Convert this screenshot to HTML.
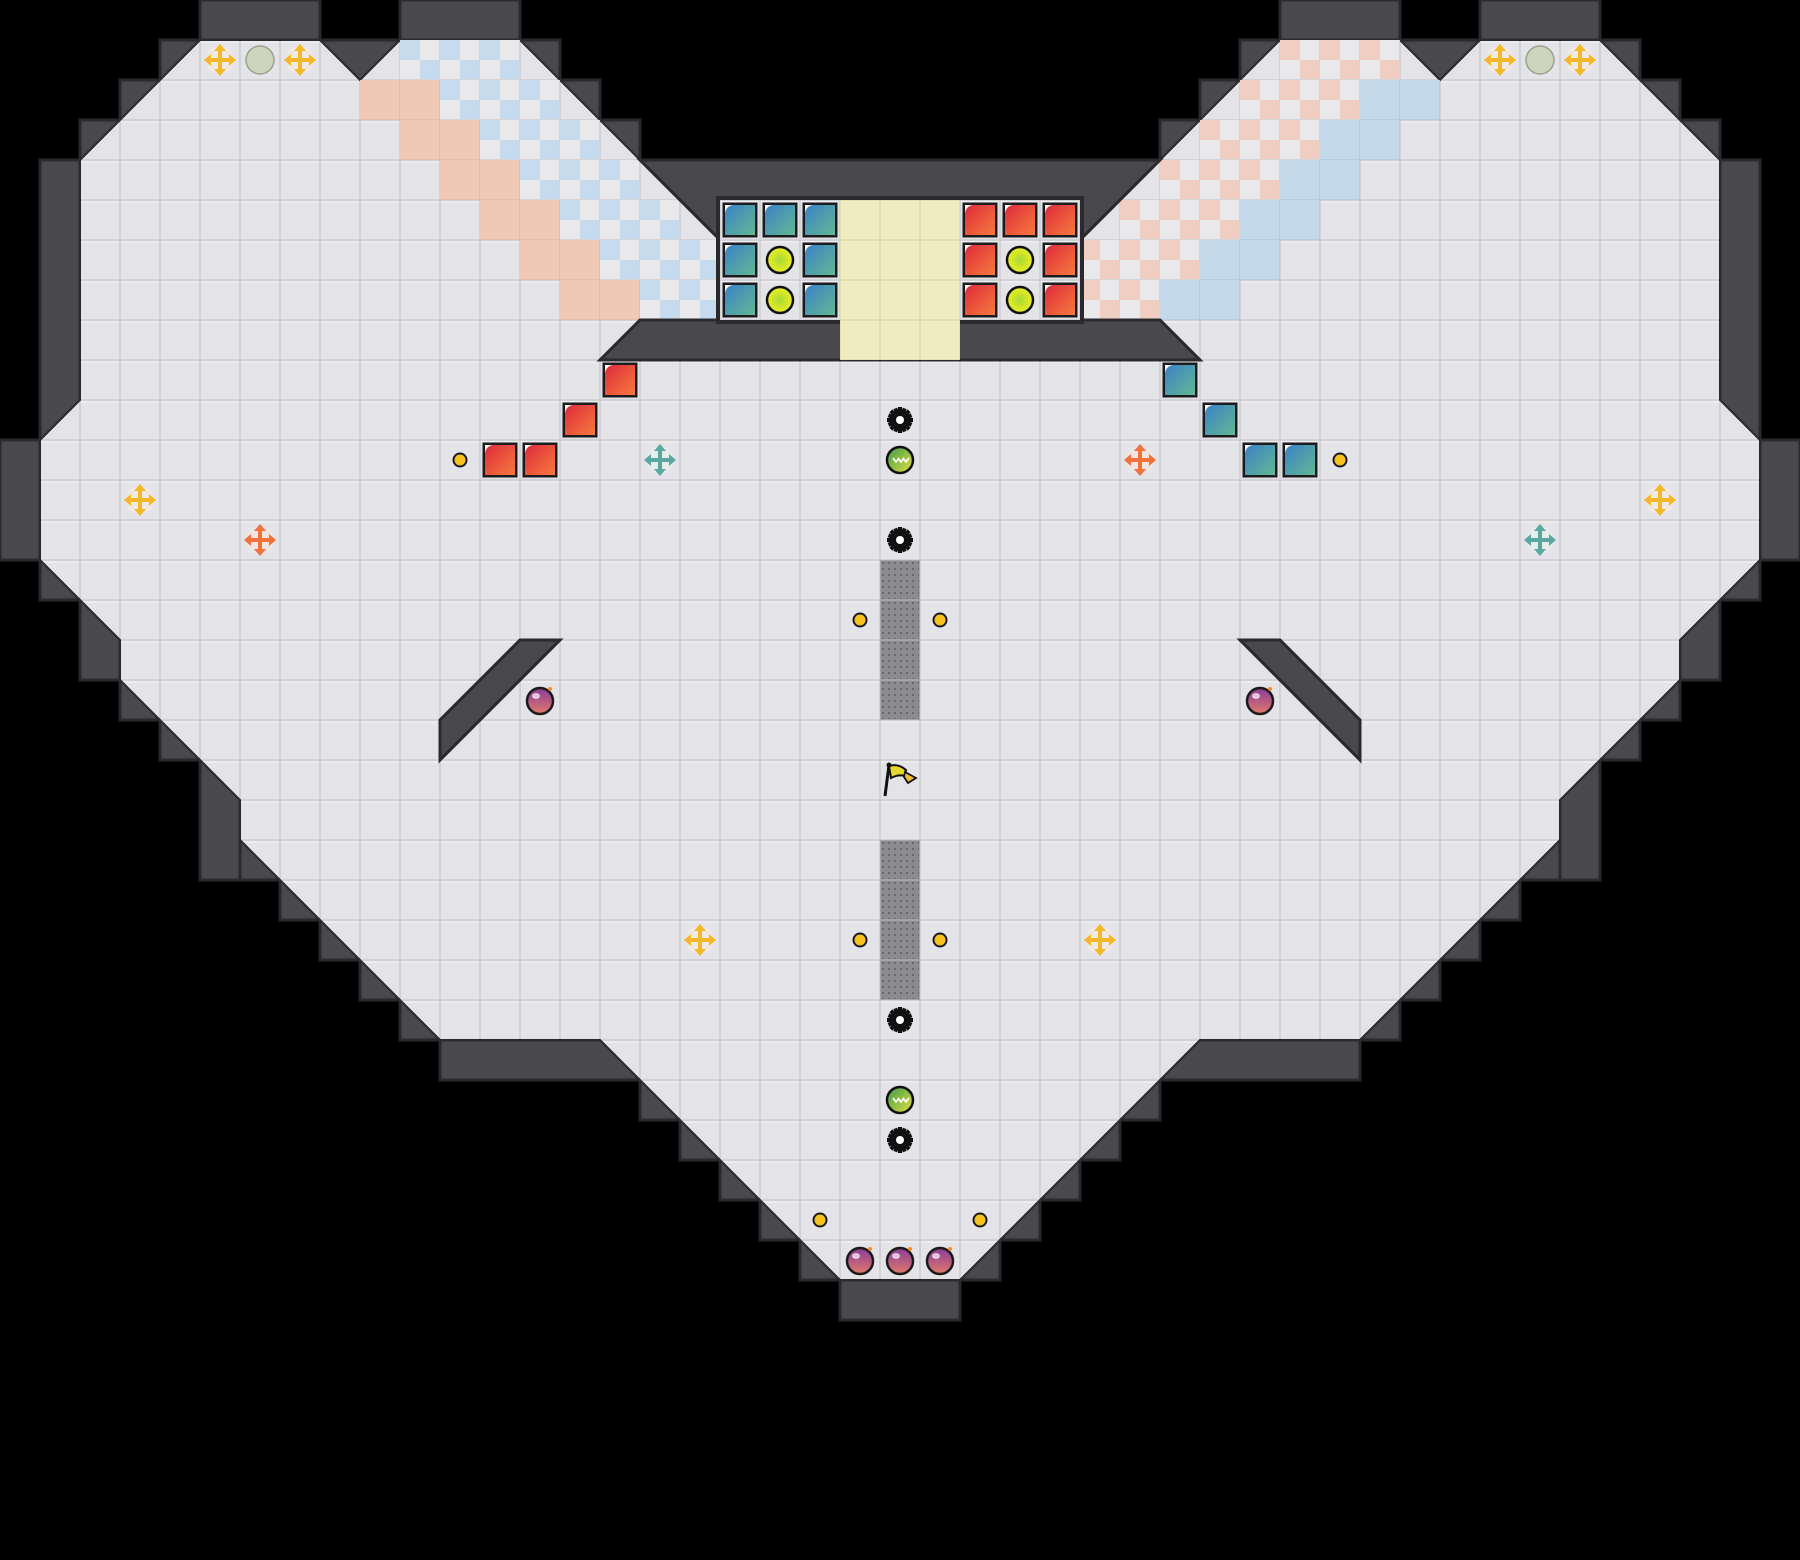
<!DOCTYPE html>
<html><head><meta charset="utf-8"><style>
html,body{margin:0;padding:0;background:#000;}
svg{display:block;}
</style></head><body>
<svg width="1800" height="1560" viewBox="0 0 1800 1560" xmlns="http://www.w3.org/2000/svg">
<defs>
<pattern id="floor" width="40" height="40" patternUnits="userSpaceOnUse">
<rect width="40" height="40" fill="#d2d2d6"/>
<rect x="1" y="1" width="38" height="38" fill="#e4e4e8"/>
<rect x="1" y="1" width="38" height="2" fill="#ececef"/>
</pattern>
<pattern id="chkB" width="40" height="40" patternUnits="userSpaceOnUse">
<rect width="40" height="40" fill="#e9e9ec"/>
<rect width="20" height="20" fill="#c6dcee"/>
<rect x="20" y="20" width="20" height="20" fill="#c6dcee"/>
<rect x="39" width="1" height="40" fill="#d6d6da"/><rect y="39" width="40" height="1" fill="#d6d6da"/>
</pattern>
<pattern id="chkS" width="40" height="40" patternUnits="userSpaceOnUse">
<rect width="40" height="40" fill="#e9e9ec"/>
<rect width="20" height="20" fill="#f0cfc2"/>
<rect x="20" y="20" width="20" height="20" fill="#f0cfc2"/>
<rect x="39" width="1" height="40" fill="#d6d6da"/><rect y="39" width="40" height="1" fill="#d6d6da"/>
</pattern>
<pattern id="solS" width="40" height="40" patternUnits="userSpaceOnUse">
<rect width="40" height="40" fill="#f0c8b6"/><rect x="39" width="1" height="40" fill="#e4bcaa"/><rect y="39" width="40" height="1" fill="#e4bcaa"/>
</pattern>
<pattern id="solB" width="40" height="40" patternUnits="userSpaceOnUse">
<rect width="40" height="40" fill="#c4d9ea"/><rect x="39" width="1" height="40" fill="#b6cde0"/><rect y="39" width="40" height="1" fill="#b6cde0"/>
</pattern>
<pattern id="yel" width="40" height="40" patternUnits="userSpaceOnUse">
<rect width="40" height="40" fill="#e2deaa"/><rect x="1" y="1" width="38" height="38" fill="#f0ecc2"/>
</pattern>
<pattern id="dots" width="6" height="6" patternUnits="userSpaceOnUse">
<rect width="6" height="6" fill="#8c8c8e"/><rect x="2" y="2" width="2" height="2" fill="#6a6a6c"/>
</pattern>
<linearGradient id="gb" x1="0" y1="0" x2="1" y2="1"><stop offset="0" stop-color="#3a82c6"/><stop offset="1" stop-color="#62b894"/></linearGradient>
<linearGradient id="gr" x1="0" y1="0" x2="1" y2="1"><stop offset="0" stop-color="#de2a3c"/><stop offset="1" stop-color="#f67a3c"/></linearGradient>
<radialGradient id="gy"><stop offset="0" stop-color="#a8d838"/><stop offset="1" stop-color="#eef020"/></radialGradient>
<linearGradient id="gg" x1="0" y1="0" x2="1" y2="1"><stop offset="0" stop-color="#3a9a48"/><stop offset="1" stop-color="#e8e040"/></linearGradient>
<linearGradient id="gbomb" x1="0" y1="0" x2="0" y2="1"><stop offset="0" stop-color="#8a3c9a"/><stop offset="1" stop-color="#e07a6a"/></linearGradient>

<g id="bbox"><rect x="2.5" y="2.5" width="35" height="35" fill="#1c1c1e"/><rect x="5" y="5" width="30" height="30" fill="url(#gb)"/><path d="M5 5h9A9 9 0 0 0 5 14z" fill="#fff"/></g>
<g id="rbox"><rect x="2.5" y="2.5" width="35" height="35" fill="#1c1c1e"/><rect x="5" y="5" width="30" height="30" fill="url(#gr)"/><path d="M5 5h9A9 9 0 0 0 5 14z" fill="#fff"/></g>
<g id="ycirc"><circle cx="20" cy="20" r="13" fill="url(#gy)" stroke="#111" stroke-width="2.5"/></g>
<g id="coin"><circle cx="20" cy="20" r="6.5" fill="#f6c21c" stroke="#1a1a1a" stroke-width="2"/></g>
<g id="gcirc"><circle cx="20" cy="20" r="14" fill="#cdd6bd" stroke="#9aa08e" stroke-width="1.5"/></g>
<g id="gear"><g fill="#111"><circle cx="20" cy="20" r="9.5"/>
<rect x="18" y="7" width="4" height="26"/><rect x="7" y="18" width="26" height="4"/>
<rect x="18" y="7" width="4" height="26" transform="rotate(45 20 20)"/><rect x="18" y="7" width="4" height="26" transform="rotate(-45 20 20)"/>
<rect x="18" y="7.5" width="4" height="25" transform="rotate(22.5 20 20)"/><rect x="18" y="7.5" width="4" height="25" transform="rotate(-22.5 20 20)"/>
<rect x="18" y="7.5" width="4" height="25" transform="rotate(67.5 20 20)"/><rect x="18" y="7.5" width="4" height="25" transform="rotate(-67.5 20 20)"/></g>
<circle cx="20" cy="20" r="4" fill="#fff"/></g>
<g id="gball"><circle cx="20" cy="20" r="13" fill="url(#gg)" stroke="#111" stroke-width="2.5"/>
<path d="M13 18l3 4 3-4M18 18l3 4 3-4M23 18l3 4 3-4" fill="none" stroke="#fff" stroke-width="1.6"/></g>
<g id="bomb"><circle cx="20" cy="21" r="13" fill="url(#gbomb)" stroke="#1a1a1a" stroke-width="2.5"/>
<ellipse cx="16" cy="16" rx="4" ry="3" fill="#fff" opacity="0.7"/><circle cx="30" cy="9" r="2" fill="#f08a2a"/></g>
<g id="gblock"><rect x="0" y="0" width="40" height="40" fill="#a6a6a8"/><rect x="1" y="1" width="38" height="38" fill="url(#dots)"/></g>
<g id="arrowY"><circle cx="20" cy="20" r="14" fill="#efeae4"/><g fill="#f4b828"><rect x="8" y="18" width="24" height="4"/><rect x="18" y="8" width="4" height="24"/>
<path d="M4 20l7-6v12zM36 20l-7-6v12zM20 4l-6 7h12zM20 36l-6-7h12z"/></g></g>
<g id="arrowO"><circle cx="20" cy="20" r="14" fill="#efe6e2"/><g fill="#f2703c"><rect x="8" y="18" width="24" height="4"/><rect x="18" y="8" width="4" height="24"/>
<path d="M4 20l7-6v12zM36 20l-7-6v12zM20 4l-6 7h12zM20 36l-6-7h12z"/></g></g>
<g id="arrowT"><circle cx="20" cy="20" r="14" fill="#e6ecea"/><g fill="#5aa8a0"><rect x="8" y="18" width="24" height="4"/><rect x="18" y="8" width="4" height="24"/>
<path d="M4 20l7-6v12zM36 20l-7-6v12zM20 4l-6 7h12zM20 36l-6-7h12z"/></g></g>
<g id="flag"><path d="M9 6 Q18 3 26 10 L25 16 Q18 14 11 18z" fill="#e8d82a" stroke="#111" stroke-width="2"/><path d="M25 12 L36 18 L28 23 L24 17z" fill="#f0c030" stroke="#111" stroke-width="1.8"/>
<line x1="9" y1="5" x2="5" y2="36" stroke="#111" stroke-width="3"/><circle cx="9" cy="5" r="2.5" fill="#111"/></g>
</defs>

<rect width="1800" height="1560" fill="#000"/>

<g fill="#48484d" stroke="#2a2a2e" stroke-width="3">
<rect x="200" y="0" width="120" height="40"/><rect x="400" y="0" width="120" height="40"/>
<rect x="160" y="40" width="40" height="40"/><rect x="320" y="40" width="80" height="40"/><rect x="520" y="40" width="40" height="40"/>
<rect x="120" y="80" width="40" height="40"/><rect x="560" y="80" width="40" height="40"/>
<rect x="80" y="120" width="40" height="40"/><rect x="600" y="120" width="40" height="40"/>
<rect x="40" y="160" width="40" height="280"/><rect x="0" y="440" width="40" height="120"/>
<rect x="40" y="560" width="40" height="40"/><rect x="80" y="600" width="40" height="80"/>
<rect x="120" y="680" width="40" height="40"/><rect x="160" y="720" width="40" height="40"/>
<rect x="200" y="760" width="40" height="120"/><rect x="240" y="840" width="40" height="40"/>
<rect x="280" y="880" width="40" height="40"/><rect x="320" y="920" width="40" height="40"/>
<rect x="360" y="960" width="40" height="40"/><rect x="400" y="1000" width="40" height="40"/>
<rect x="440" y="1040" width="200" height="40"/><rect x="640" y="1080" width="40" height="40"/>
<rect x="680" y="1120" width="40" height="40"/><rect x="720" y="1160" width="40" height="40"/>
<rect x="760" y="1200" width="40" height="40"/><rect x="800" y="1240" width="40" height="40"/>
<rect x="840" y="1280" width="120" height="40"/>
<rect x="1480" y="0" width="120" height="40"/><rect x="1280" y="0" width="120" height="40"/>
<rect x="1600" y="40" width="40" height="40"/><rect x="1400" y="40" width="80" height="40"/><rect x="1240" y="40" width="40" height="40"/>
<rect x="1640" y="80" width="40" height="40"/><rect x="1200" y="80" width="40" height="40"/>
<rect x="1680" y="120" width="40" height="40"/><rect x="1160" y="120" width="40" height="40"/>
<rect x="1720" y="160" width="40" height="280"/><rect x="1760" y="440" width="40" height="120"/>
<rect x="1720" y="560" width="40" height="40"/><rect x="1680" y="600" width="40" height="80"/>
<rect x="1640" y="680" width="40" height="40"/><rect x="1600" y="720" width="40" height="40"/>
<rect x="1560" y="760" width="40" height="120"/><rect x="1520" y="840" width="40" height="40"/>
<rect x="1480" y="880" width="40" height="40"/><rect x="1440" y="920" width="40" height="40"/>
<rect x="1400" y="960" width="40" height="40"/><rect x="1360" y="1000" width="40" height="40"/>
<rect x="1160" y="1040" width="200" height="40"/><rect x="1120" y="1080" width="40" height="40"/>
<rect x="1080" y="1120" width="40" height="40"/><rect x="1040" y="1160" width="40" height="40"/>
<rect x="1000" y="1200" width="40" height="40"/><rect x="960" y="1240" width="40" height="40"/>
</g>

<polygon fill="url(#floor)" stroke="#2a2a2e" stroke-width="2" points="200,40 320,40 360,80 400,40 520,40 640,160 1160,160 1280,40 1400,40 1440,80 1480,40 1600,40 1720,160 1720,400 1760,440 1760,560 1680,640 1680,680 1560,800 1560,840 1360,1040 1200,1040 960,1280 840,1280 600,1040 440,1040 240,840 240,800 120,680 120,640 40,560 40,440 80,400 80,160"/>

<g>
<rect x="400" y="40" width="120" height="40" fill="url(#chkB)"/>
<rect x="440" y="80" width="120" height="40" fill="url(#chkB)"/>
<rect x="480" y="120" width="120" height="40" fill="url(#chkB)"/>
<rect x="520" y="160" width="120" height="40" fill="url(#chkB)"/>
<rect x="560" y="200" width="120" height="40" fill="url(#chkB)"/>
<rect x="600" y="240" width="120" height="40" fill="url(#chkB)"/>
<rect x="640" y="280" width="80" height="40" fill="url(#chkB)"/>
<rect x="360" y="80" width="80" height="40" fill="url(#solS)"/>
<rect x="400" y="120" width="80" height="40" fill="url(#solS)"/>
<rect x="440" y="160" width="80" height="40" fill="url(#solS)"/>
<rect x="480" y="200" width="80" height="40" fill="url(#solS)"/>
<rect x="520" y="240" width="80" height="40" fill="url(#solS)"/>
<rect x="560" y="280" width="80" height="40" fill="url(#solS)"/>
<rect x="1280" y="40" width="120" height="40" fill="url(#chkS)"/>
<rect x="1240" y="80" width="120" height="40" fill="url(#chkS)"/>
<rect x="1200" y="120" width="120" height="40" fill="url(#chkS)"/>
<rect x="1160" y="160" width="120" height="40" fill="url(#chkS)"/>
<rect x="1120" y="200" width="120" height="40" fill="url(#chkS)"/>
<rect x="1080" y="240" width="120" height="40" fill="url(#chkS)"/>
<rect x="1080" y="280" width="80" height="40" fill="url(#chkS)"/>
<rect x="1360" y="80" width="80" height="40" fill="url(#solB)"/>
<rect x="1320" y="120" width="80" height="40" fill="url(#solB)"/>
<rect x="1280" y="160" width="80" height="40" fill="url(#solB)"/>
<rect x="1240" y="200" width="80" height="40" fill="url(#solB)"/>
<rect x="1200" y="240" width="80" height="40" fill="url(#solB)"/>
<rect x="1160" y="280" width="80" height="40" fill="url(#solB)"/>
</g>

<polygon fill="#48484d" stroke="#2a2a2e" stroke-width="3" points="640,160 1160,160 1080,240 1080,320 1160,320 1200,360 600,360 640,320 720,320 720,240"/>
<rect x="716" y="196" width="368" height="128" fill="#2a2a2e"/>
<rect x="720" y="200" width="360" height="120" fill="url(#floor)"/>
<rect x="840" y="200" width="120" height="160" fill="url(#yel)"/>

<polygon fill="#48484d" stroke="#2a2a2e" stroke-width="3" points="520,640 560,640 440,760 440,720"/>
<polygon fill="#48484d" stroke="#2a2a2e" stroke-width="3" points="1280,640 1240,640 1360,760 1360,720"/>

<use href="#bbox" x="720" y="200"/><use href="#bbox" x="760" y="200"/><use href="#bbox" x="800" y="200"/>
<use href="#bbox" x="720" y="240"/><use href="#bbox" x="800" y="240"/>
<use href="#bbox" x="720" y="280"/><use href="#bbox" x="800" y="280"/>
<use href="#bbox" x="1160" y="360"/><use href="#bbox" x="1200" y="400"/><use href="#bbox" x="1240" y="440"/><use href="#bbox" x="1280" y="440"/>
<use href="#rbox" x="960" y="200"/><use href="#rbox" x="1000" y="200"/><use href="#rbox" x="1040" y="200"/>
<use href="#rbox" x="960" y="240"/><use href="#rbox" x="1040" y="240"/>
<use href="#rbox" x="960" y="280"/><use href="#rbox" x="1040" y="280"/>
<use href="#rbox" x="600" y="360"/><use href="#rbox" x="560" y="400"/><use href="#rbox" x="480" y="440"/><use href="#rbox" x="520" y="440"/>
<use href="#ycirc" x="760" y="240"/><use href="#ycirc" x="760" y="280"/><use href="#ycirc" x="1000" y="240"/><use href="#ycirc" x="1000" y="280"/>

<use href="#coin" x="440" y="440"/><use href="#coin" x="1320" y="440"/>
<use href="#coin" x="840" y="600"/><use href="#coin" x="920" y="600"/>
<use href="#coin" x="840" y="920"/><use href="#coin" x="920" y="920"/>
<use href="#coin" x="800" y="1200"/><use href="#coin" x="960" y="1200"/>

<use href="#arrowY" x="200" y="40"/><use href="#arrowY" x="280" y="40"/>
<use href="#arrowY" x="1480" y="40"/><use href="#arrowY" x="1560" y="40"/>
<use href="#arrowY" x="120" y="480"/><use href="#arrowY" x="1640" y="480"/>
<use href="#arrowY" x="680" y="920"/><use href="#arrowY" x="1080" y="920"/>
<use href="#arrowO" x="240" y="520"/><use href="#arrowO" x="1120" y="440"/>
<use href="#arrowT" x="640" y="440"/><use href="#arrowT" x="1520" y="520"/>
<use href="#gcirc" x="240" y="40"/><use href="#gcirc" x="1520" y="40"/>

<use href="#gear" x="880" y="400"/><use href="#gball" x="880" y="440"/><use href="#gear" x="880" y="520"/>
<use href="#gblock" x="880" y="560"/><use href="#gblock" x="880" y="600"/><use href="#gblock" x="880" y="640"/><use href="#gblock" x="880" y="680"/>
<use href="#flag" x="880" y="760"/>
<use href="#gblock" x="880" y="840"/><use href="#gblock" x="880" y="880"/><use href="#gblock" x="880" y="920"/><use href="#gblock" x="880" y="960"/>
<use href="#gear" x="880" y="1000"/><use href="#gball" x="880" y="1080"/><use href="#gear" x="880" y="1120"/>

<use href="#bomb" x="520" y="680"/><use href="#bomb" x="1240" y="680"/>
<use href="#bomb" x="840" y="1240"/><use href="#bomb" x="880" y="1240"/><use href="#bomb" x="920" y="1240"/>
</svg>
</body></html>
